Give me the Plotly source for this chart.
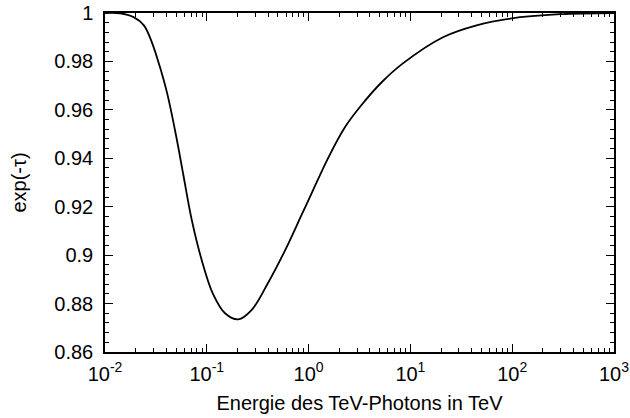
import plotly.graph_objects as go

# photon energy in TeV and the attenuation factor exp(-tau)
energy_tev = [0.01, 0.0141, 0.0191, 0.0240, 0.0288, 0.0339, 0.0407, 0.0501,
              0.0589, 0.0708, 0.0891, 0.115, 0.151, 0.204, 0.275, 0.398,
              0.589, 0.851, 1.07, 1.55, 2.29, 3.31, 5.25, 8.32, 20.9, 44.7,
              95.5, 295, 1000]
exp_tau = [1.0, 0.9999, 0.9983, 0.995, 0.988, 0.979, 0.967, 0.949,
           0.933, 0.915, 0.898, 0.884, 0.876, 0.8735, 0.8773, 0.8884,
           0.9021, 0.9165, 0.9255, 0.940, 0.953, 0.962, 0.9715, 0.979, 0.990, 0.9949,
           0.9977, 0.9995, 1.0]

x_tickvals = [0.01, 0.1, 1, 10, 100, 1000]
x_ticktext = ["10<sup>-2</sup>", "10<sup>-1</sup>", "10<sup>0</sup>",
              "10<sup>1</sup>", "10<sup>2</sup>", "10<sup>3</sup>"]
y_tickvals = [0.86, 0.88, 0.9, 0.92, 0.94, 0.96, 0.98, 1.0]
y_ticktext = ["0.86", "0.88", "0.9", "0.92", "0.94", "0.96", "0.98", "1"]

x_minor = [m * d for d in [0.01, 0.1, 1, 10, 100] for m in range(2, 10)]

fig = go.Figure()
fig.add_trace(go.Scatter(
    x=energy_tev, y=exp_tau,
    mode="lines",
    line=dict(color="black", width=1.8, shape="spline", smoothing=1.0),
    showlegend=False,
))

FAMILY = "Liberation Sans"
tick_font = dict(family=FAMILY, size=20, color="black")
title_font = dict(family=FAMILY, size=20, color="black")

fig.update_layout(
    template="simple_white",
    width=630, height=418,
    margin=dict(l=105, r=16, t=13, b=66, autoexpand=False),
    plot_bgcolor="white", paper_bgcolor="white",
    font=dict(family=FAMILY, size=20, color="black"),
    xaxis=dict(
        type="log", range=[-2, 3], automargin=False,
        tickmode="array", tickvals=x_tickvals, ticktext=x_ticktext,
        tickfont=tick_font, ticklabelstandoff=3,
        ticks="inside", ticklen=8, tickwidth=1, tickcolor="black",
        minor=dict(ticks="inside", ticklen=4, tickwidth=1, tickcolor="black",
                   tickmode="array", tickvals=x_minor),
        showline=True, linecolor="black", linewidth=1.5, mirror="allticks",
        showgrid=False, zeroline=False,
        title=dict(text="Energie des TeV-Photons in TeV", font=title_font, standoff=12),
    ),
    yaxis=dict(
        range=[0.86, 1.0], automargin=False,
        tickmode="array", tickvals=y_tickvals, ticktext=y_ticktext,
        tickfont=tick_font, ticklabelstandoff=6,
        ticks="inside", ticklen=8, tickwidth=1, tickcolor="black",
        minor=dict(ticks="inside", ticklen=4, tickwidth=1, tickcolor="black",
                   dtick=0.004),
        showline=True, linecolor="black", linewidth=1.5, mirror="allticks",
        showgrid=False, zeroline=False,
        title=dict(text="exp(-τ)", font=title_font, standoff=22),
    ),
)

fig.write_html("out.html", config={"displayModeBar": False},
               post_script="document.body.style.margin='0';"
                           "document.body.style.overflow='hidden';")
